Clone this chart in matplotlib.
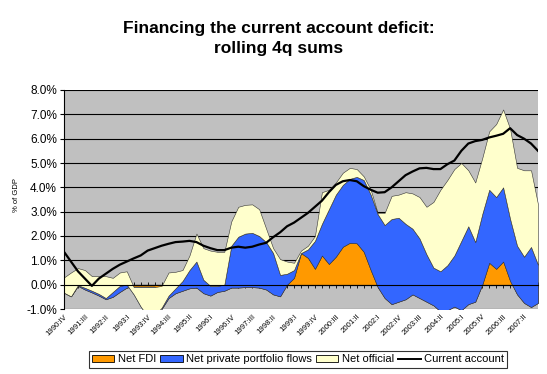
import numpy as np
import matplotlib
matplotlib.use('Agg')
import matplotlib.pyplot as plt
from matplotlib.patches import Patch
from matplotlib.lines import Line2D
from matplotlib.ticker import FuncFormatter

plt.rcParams['font.family'] = ['Liberation Sans', 'DejaVu Sans']

# ---- data: rolling 4q sums, % of GDP, 1990:IV .. 2007:IV ----
quarters = [f"{y}:{q}" for y in range(1990, 2008) for q in ['I', 'II', 'III', 'IV']][3:72]

fdi = [-0.33, -0.48, -0.05, -0.20, -0.32, -0.45, -0.60, -0.50, -0.30, -0.12,
       -0.08, -0.08, -0.08, -0.08, -1.00, -0.55, -0.35, -0.25, -0.15, -0.12,
       -0.35, -0.45, -0.30, -0.25, -0.12, -0.12, -0.10, -0.10, -0.12, -0.20,
       -0.40, -0.48, 0.00, 0.28, 1.30, 1.10, 0.65, 1.20, 0.85, 1.15,
       1.56, 1.72, 1.70, 1.35, 0.60, -0.10, -0.55, -0.80, -0.70, -0.60,
       -0.40, -0.55, -0.70, -0.85, -1.10, -1.05, -0.90, -1.05, -0.80, -0.70,
       0.00, 0.90, 0.65, 0.95, 0.15, -0.40, -0.75, -0.92, -0.75]

portfolio = [0.00, 0.00, 0.03, 0.07, 0.07, 0.07, 0.05, 0.20, 0.25, 0.12,
             -0.32, -0.82, -1.22, -1.17, 0.05, 0.10, 0.20, 0.40, 0.75, 1.07,
             0.55, 0.40, 0.25, 0.25, 1.72, 2.09, 2.20, 2.23, 2.12, 1.95,
             1.70, 0.88, 0.45, 0.32, 0.00, 0.35, 1.15, 1.30, 2.25, 2.55,
             2.54, 2.63, 2.73, 2.95, 3.10, 3.00, 3.00, 3.50, 3.45, 3.10,
             2.70, 2.45, 1.95, 1.55, 1.65, 1.85, 2.10, 2.85, 3.20, 2.45,
             2.90, 3.00, 2.95, 3.05, 2.55, 2.00, 1.90, 2.47, 1.57]

official = [0.63, 0.98, 0.70, 0.73, 0.60, 0.73, 0.90, 0.58, 0.55, 0.55,
            0.30, 0.80, 1.20, 1.15, 0.90, 0.95, 0.68, 0.45, 0.60, 1.15,
            1.30, 1.45, 1.40, 1.35, 1.00, 1.23, 1.18, 1.17, 1.10, 0.55,
            0.20, 0.65, 0.50, 0.30, 0.10, 0.15, 0.20, 1.30, 0.80, 0.50,
            0.50, 0.45, 0.32, 0.15, 0.20, 0.05, 0.50, 0.95, 0.95, 1.30,
            1.45, 1.70, 1.95, 2.70, 3.35, 3.50, 3.55, 3.20, 2.30, 2.45,
            2.30, 2.40, 3.00, 3.20, 3.70, 3.20, 3.55, 3.15, 2.48]

current_account = [1.35, 0.95, 0.55, 0.25, -0.05, 0.25, 0.45, 0.65, 0.82, 0.95,
                   1.08, 1.20, 1.40, 1.50, 1.60, 1.68, 1.75, 1.77, 1.80, 1.75,
                   1.60, 1.50, 1.42, 1.42, 1.52, 1.56, 1.52, 1.56, 1.65, 1.72,
                   1.95, 2.15, 2.40, 2.55, 2.75, 2.95, 3.20, 3.45, 3.80, 4.10,
                   4.25, 4.30, 4.25, 4.05, 3.90, 3.78, 3.80, 4.00, 4.25, 4.50,
                   4.65, 4.78, 4.80, 4.75, 4.75, 4.95, 5.10, 5.50, 5.80, 5.90,
                   5.95, 6.05, 6.12, 6.20, 6.43, 6.15, 6.00, 5.80, 5.50]

x = np.arange(len(quarters))
lvl1 = np.array(fdi)
lvl2 = lvl1 + np.array(portfolio)
lvl3 = lvl2 + np.array(official)

W, H = 547, 374
fig = plt.figure(figsize=(W / 100, H / 100), dpi=100)
ax = fig.add_axes([64 / W, 1 - 309 / H, (538 - 64) / W, (309 - 90) / H])
ax.set_facecolor('#C0C0C0')

# Excel-style stacked areas: each band from previous cumulative level to its own
edge = dict(edgecolor='#333333', linewidth=0.4)
ax.fill_between(x, 0, lvl1, facecolor='#FF9900', **edge)
ax.fill_between(x, lvl1, lvl2, facecolor='#3366FF', **edge)
ax.fill_between(x, lvl2, lvl3, facecolor='#FFFFCC', **edge)
ax.plot(x, current_account, color='black', linewidth=1.6)

ax.set_xlim(0, len(quarters) - 1)
ax.set_ylim(-1, 8)
ax.set_yticks(np.arange(-1, 9, 1))
ax.yaxis.set_major_formatter(FuncFormatter(lambda v, p: f"{v:.1f}%"))
ax.yaxis.grid(True, color='black', linewidth=0.8)
ax.set_axisbelow(True)
ax.tick_params(axis='y', labelsize=8.5, length=3, width=0.8, pad=2)

# category axis crosses at zero, labels at the bottom
ax.spines['bottom'].set_position(('data', 0))
ax.spines['bottom'].set_linewidth(0.8)
ax.spines['top'].set_visible(False)
ax.spines['right'].set_visible(False)
ax.spines['left'].set_linewidth(0.8)
ax.set_xticks(x)
ax.set_xticklabels([])
ax.tick_params(axis='x', direction='inout', length=4, width=0.6)

sec = ax.secondary_xaxis('bottom')
sec.spines['bottom'].set_visible(False)
sec.set_xticks(x[::3])
sec.set_xticklabels(quarters[::3], rotation=45, ha='right', rotation_mode='anchor', fontsize=5.6)
sec.tick_params(length=0, pad=3)

fig.text(16 / W, 1 - 195 / H, '% of GDP', rotation=90, fontsize=5.5, ha='center', va='center')
fig.text(279 / W, 1 - 28 / H, 'Financing the current account deficit:', fontsize=12.5,
         fontweight='bold', ha='center', va='center')
fig.text(279 / W, 1 - 49 / H, 'rolling 4q sums', fontsize=12.5,
         fontweight='bold', ha='center', va='center')

handles = [Patch(facecolor='#FF9900', edgecolor='black', linewidth=0.6),
           Patch(facecolor='#3366FF', edgecolor='black', linewidth=0.6),
           Patch(facecolor='#FFFFCC', edgecolor='black', linewidth=0.6),
           Line2D([], [], color='black', linewidth=1.4)]
labels = ['Net FDI', 'Net private portfolio flows', 'Net official', 'Current account']
leg = fig.legend(handles, labels, loc='center', bbox_to_anchor=(298 / W, 1 - 359.5 / H),
                 ncol=4, frameon=True, fancybox=False, edgecolor='black', fontsize=8.0,
                 handlelength=2.0, handleheight=0.6, columnspacing=0.4,
                 handletextpad=0.3, borderpad=0.3)
leg.get_frame().set_linewidth(0.8)

fig.savefig('out.png', dpi=100)
